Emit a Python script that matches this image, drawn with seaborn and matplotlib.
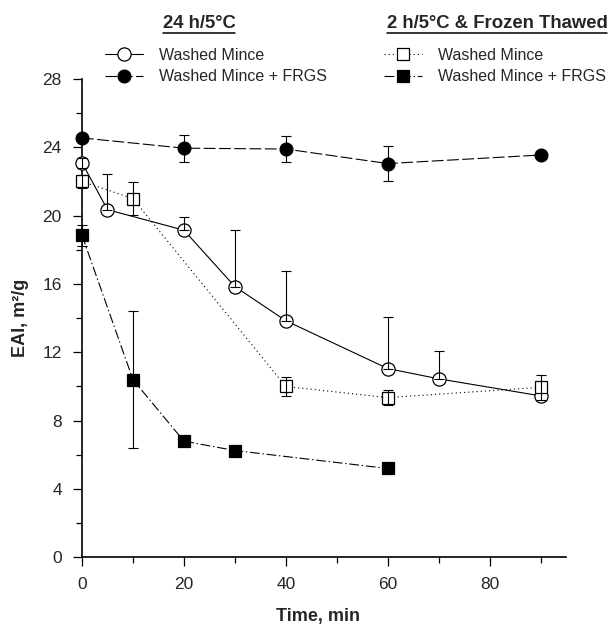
import numpy as np
import pandas as pd

import matplotlib
matplotlib.use("Agg")
import matplotlib.pyplot as plt
from matplotlib.lines import Line2D
from matplotlib.ticker import MultipleLocator
import seaborn as sns

# ── data ──────────────────────────────────────────────────────
# 24 h/5°C
wm_time = [0, 5, 20, 30, 40, 60, 70, 90]
wm_eai = [23.1, 20.35, 19.15, 15.85, 13.85, 11.05, 10.45, 9.45]
wm_err_up = [0.3, 2.1, 0.75, 3.3, 2.9, 3.0, 1.6, 0.0]
wm_err_lo = [0.3, 0.0, 0.0, 0.0, 0.0, 0.0, 0.0, 0.0]

wmf_time = [0, 20, 40, 60, 90]
wmf_eai = [24.55, 23.95, 23.9, 23.05, 23.55]
wmf_err = [0.0, 0.8, 0.75, 1.0, 0.0]

# 2 h/5°C & Frozen Thawed
ft_time = [0, 10, 40, 60, 90]
ft_eai = [22.0, 21.0, 10.0, 9.35, 9.95]
ft_err = [0.4, 0.95, 0.55, 0.45, 0.75]

ftf_time = [0, 10, 20, 30, 60]
ftf_eai = [18.85, 10.4, 6.8, 6.25, 5.2]
ftf_err = [0.6, 4.0, 0.0, 0.0, 0.0]

label_wm = "Washed Mince"
label_wmf = "Washed Mince + FRGS"

# ── style ─────────────────────────────────────────────────────
sns.set_style("ticks")
plt.rcParams["font.family"] = ["Liberation Sans", "DejaVu Sans"]
plt.rcParams["lines.scale_dashes"] = False

W, H = 613, 628
fig = plt.figure(figsize=(W / 100, H / 100), dpi=100)
ax = fig.add_axes([82 / W, 1 - 557.3 / H, (566 - 82) / W, (557.3 - 79) / H])

LW = 0.8
series = [
    # time, eai, err_lo, err_up, marker, size, face, linestyle
    (wm_time, wm_eai, wm_err_lo, wm_err_up, "o", 9.5, "white", "-"),
    (wmf_time, wmf_eai, wmf_err, wmf_err, "o", 9.2, "black", (0, (8.5, 2.5))),
    (ft_time, ft_eai, ft_err, ft_err, "s", 8, "white", (0, (0.8, 2.2))),
    (ftf_time, ftf_eai, ftf_err, ftf_err, "s", 8.3, "black", (0, (7, 2, 1, 2))),
]

handles = []
for t, v, lo, up, mk, ms, fc, ls in series:
    df = pd.DataFrame({"time": t, "eai": v})
    sns.lineplot(
        data=df, x="time", y="eai", ax=ax, errorbar=None,
        color="black", linewidth=LW, linestyle=ls,
        marker=mk, markersize=ms, markerfacecolor=fc,
        markeredgecolor="black", markeredgewidth=0.9,
        clip_on=False, zorder=3,
    )
    handles.append(ax.lines[-1])

for t, v, lo, up, mk, ms, fc, ls in series:
    lo = np.array(lo)
    up = np.array(up)
    keep = (lo > 0) | (up > 0)
    ax.errorbar(
        np.array(t)[keep], np.array(v)[keep],
        yerr=[lo[keep], up[keep]], fmt="none",
        ecolor="black", elinewidth=0.8, capsize=3.6, capthick=0.8,
        zorder=4, clip_on=False,
    )

# ── axes ──────────────────────────────────────────────────────
ax.set_xlim(0, 95)
ax.set_ylim(0, 28)
ax.xaxis.set_major_locator(MultipleLocator(20))
ax.xaxis.set_minor_locator(MultipleLocator(10))
ax.yaxis.set_major_locator(MultipleLocator(4))
ax.yaxis.set_minor_locator(MultipleLocator(2))
ax.set_xticks([0, 20, 40, 60, 80])
ax.tick_params(which="major", direction="out", length=6.5, width=0.9,
               labelsize=12.5, pad=8, color="black")
ax.tick_params(which="minor", direction="out", length=4, width=0.9,
               color="black")
sns.despine(ax=ax)
for s in ("left", "bottom"):
    ax.spines[s].set_linewidth(1.2)
    ax.spines[s].set_color("black")

ax.set_xlabel("Time, min", fontsize=13, fontweight="bold")
ax.set_ylabel("EAI, m²/g", fontsize=13, fontweight="bold")
ax.xaxis.set_label_coords(0.4876, -0.105)
ax.yaxis.set_label_coords(-0.11, 0.5)

# ── legends with underlined headings ──────────────────────────
leg_kw = dict(frameon=False, fontsize=11.5, handlelength=2.4,
              handletextpad=1.0, labelspacing=0.4, borderpad=0,
              borderaxespad=0, loc="center left")
leg1 = fig.legend(handles=handles[:2], labels=[label_wm, label_wmf],
                  bbox_to_anchor=(105 / W, 1 - 66 / H), **leg_kw)
leg2 = fig.legend(handles=handles[2:], labels=[label_wm, label_wmf],
                  bbox_to_anchor=(384 / W, 1 - 66 / H), **leg_kw)

titles = [("24 h/5°C", 199), ("2 h/5°C & Frozen Thawed", 497)]
renderer = fig.canvas.get_renderer()
for txt, xc in titles:
    t = fig.text(xc / W, 1 - 24 / H, txt, ha="center", va="center",
                 fontsize=13.3, fontweight="bold")
    bb = t.get_window_extent(renderer)
    fig.add_artist(Line2D([bb.x0 / W, bb.x1 / W], [1 - 33 / H] * 2,
                          color="black", linewidth=1.1,
                          transform=fig.transFigure))

fig.savefig("out.png", dpi=100)
plt.close(fig)
